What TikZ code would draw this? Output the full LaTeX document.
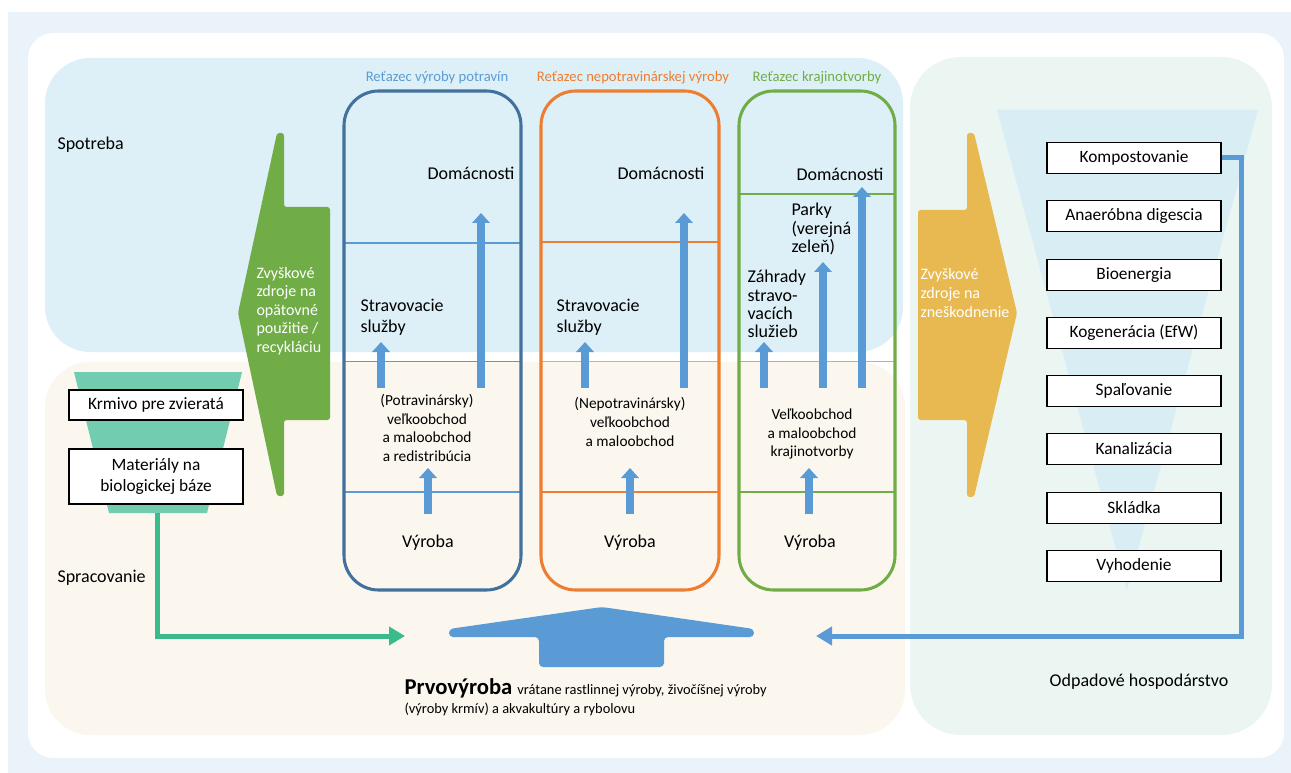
\documentclass[tikz,border=0pt]{standalone}
\usepackage{fontspec}
\setmainfont{Carlito}
\usetikzlibrary{arrows.meta}

\definecolor{pageblue}{RGB}{234,243,250}
\definecolor{useblue}{RGB}{222,240,247}
\definecolor{proccream}{RGB}{251,247,238}
\definecolor{wastegreen}{RGB}{235,246,242}
\definecolor{funnelblue}{RGB}{216,237,244}
\definecolor{fooddark}{RGB}{65,113,156}
\definecolor{flowblue}{RGB}{91,155,213}
\definecolor{nonfood}{RGB}{237,125,49}
\definecolor{landgreen}{RGB}{112,173,71}
\definecolor{residgold}{RGB}{231,185,80}
\definecolor{feedteal}{RGB}{114,204,176}
\definecolor{bioteal}{RGB}{59,186,140}

\tikzset{every picture/.style={line width=0.75pt}}
\tikzset{
  txt/.style={inner sep=0.75pt, font=\fontsize{13.5}{15.75}\selectfont},
  tighttxt/.style={inner sep=0.75pt, align=left, font=\fontsize{13.5}{13.6}\selectfont},
  midtxt/.style={inner sep=0.75pt, align=center, font=\fontsize{11.5}{14}\selectfont},
  chaintitle/.style={inner sep=0.75pt, font=\fontsize{11}{13}\selectfont},
  restxt/.style={inner sep=0.75pt, align=left, text=white, font=\fontsize{12}{13.9}\selectfont},
  wastebox/.style={draw=black, fill=white, line width=1.1pt, minimum width=130.5pt, minimum height=23.25pt, inner sep=0pt, font=\fontsize{13}{15}\selectfont},
  feedbox/.style={draw=black, fill=white, line width=1.1pt, minimum width=130.5pt, minimum height=22.5pt, inner sep=0pt, align=center, font=\fontsize{13}{15.4}\selectfont},
  chainbox/.style={line width=2.3pt, rounded corners=26pt},
  sepline/.style={line width=1.5pt},
  thinsep/.style={line width=0.75pt},
  upflow/.style={draw=flowblue, line width=6.2pt, -{Triangle[width=13pt,length=7.5pt]}},
  loopline/.style={line width=3.75pt, -{Triangle[width=13.5pt,length=12pt]}},
}

\begin{document}
\begin{tikzpicture}[x=0.75pt,y=0.75pt,yscale=-1,xscale=1]
\useasboundingbox (0,0) rectangle (1291,773);

%Shape: Rectangle [background]
\fill[pageblue] (8,12) rectangle (1291,773);
%Shape: Rounded Rect [card]
\fill[white, rounded corners=19pt] (28,33) rectangle (1284,758);
%Shape: Rounded Rect [consumption]
\fill[useblue, rounded corners=34pt] (45,58) rectangle (903,352);
%Shape: Rounded Rect [processing]
\fill[proccream, rounded corners=34pt] (45,362) rectangle (905,735);
%Shape: Rounded Rect [waste]
\fill[wastegreen, rounded corners=38pt] (910,57) rectangle (1272,735);

%Shape: Triangle [waste funnel]
\fill[funnelblue] (997,110) -- (1258,110) -- (1127,590) -- cycle;
%Shape: Trapezoid [bio funnel]
\fill[feedteal] (74,372) -- (242,372) -- (207,513) -- (109,513) -- cycle;

%Straight Lines [chain levels]
\draw[sepline, flowblue] (344,243) -- (521,243);
\draw[thinsep, flowblue] (344,361) -- (521,361);
\draw[sepline, flowblue] (344,492) -- (521,492);
\draw[sepline, nonfood] (541,242) -- (719,242);
\draw[thinsep, nonfood!70] (541,361) -- (719,361);
\draw[sepline, nonfood] (541,492) -- (719,492);
\draw[sepline, landgreen] (739,194) -- (895,194);
\draw[thinsep, landgreen!70] (739,361) -- (895,361);
\draw[sepline, landgreen] (739,492) -- (895,492);

%Shape: Rounded Rect [chains]
\draw[chainbox, fooddark] (344,91) rectangle (521,590);
\draw[chainbox, nonfood] (541,91) rectangle (719,590);
\draw[chainbox, landgreen] (739,91) rectangle (895,590);

%Block Arrows [flows]
\draw[upflow] (381,388) -- (381,342);
\draw[upflow] (481,388) -- (481,213);
\draw[upflow] (428,514) -- (428,468);
\draw[upflow] (585,388) -- (585,342);
\draw[upflow] (684,388) -- (684,213);
\draw[upflow] (630,514) -- (630,468);
\draw[upflow] (764,388) -- (764,342);
\draw[upflow] (823,388) -- (823,262);
\draw[upflow] (862,388) -- (862,187);
\draw[upflow] (809,514) -- (809,468);

% Text Node [chain titles]
\node (titfood) [chaintitle, text=flowblue] at (437,78) {Reťazec výroby potravín};
\node (titnonfood) [chaintitle, text=nonfood] at (633,78) {Reťazec nepotravinárskej výroby};
\node (titland) [chaintitle, text=landgreen] at (817,78) {Reťazec krajinotvorby};

% Text Node [food chain]
\node (homefood) [txt, anchor=east] at (516,173) {Domácnosti};
\node (catfood) [txt, anchor=west, align=left] at (359,317) {Stravovacie\\služby};
\node (tradefood) [midtxt] at (427,428) {(Potravinársky)\\veľkoobchod\\a maloobchod\\a redistribúcia};
\node (prodfood) [txt] at (428,543) {Výroba};

% Text Node [non-food chain]
\node (homenonfood) [txt, anchor=east] at (706,173) {Domácnosti};
\node (catnonfood) [txt, anchor=west, align=left] at (555,317) {Stravovacie\\služby};
\node (tradenonfood) [midtxt] at (630,422) {(Nepotravinársky)\\veľkoobchod\\a maloobchod};
\node (prodnonfood) [txt] at (630,543) {Výroba};

% Text Node [landscape chain]
\node (homeland) [txt, anchor=east] at (885,174) {Domácnosti};
\node (parks) [tighttxt, anchor=west] at (790,229) {Parky\\(verejná\\zeleň)};
\node (gardens) [tighttxt, anchor=west] at (746,304) {Záhrady\\stravo-\\vacích\\služieb};
\node (tradeland) [midtxt] at (812,434) {Veľkoobchod\\a maloobchod\\krajinotvorby};
\node (prodland) [txt] at (810,543) {Výroba};

%Shape: Arrow [residues for reuse]
\fill[landgreen, rounded corners=2pt] (277,133) -- (284,133) -- (284,207) -- (330,207) -- (330,420) -- (284,420) -- (284,496) -- (277,496) -- (238,313) -- cycle;
\node (reuse) [restxt, anchor=west] at (255,311) {Zvyškové\\zdroje na\\opätovné\\použitie /\\recykláciu};

%Shape: Arrow [residues for disposal]
\fill[residgold, rounded corners=2pt] (974,133) -- (967,133) -- (967,210) -- (918,210) -- (918,420) -- (967,420) -- (967,497) -- (974,497) -- (1017,313) -- cycle;
\node (dispose) [restxt, anchor=west] at (919,293) {Zvyškové\\zdroje na\\zneškodnenie};

% Text Node [regions]
\node (spotreba) [txt, anchor=west] at (56,145) {Spotreba};
\node (spracovanie) [txt, anchor=west] at (56,578) {Spracovanie};
\node (odpad) [txt] at (1139,682) {Odpadové hospodárstvo};

% Text Node [waste options]
\node (komp) [wastebox] at (1134,158) {Kompostovanie};
\node (anaer) [wastebox] at (1134,216) {Anaeróbna digescia};
\node (bioen) [wastebox] at (1134,275) {Bioenergia};
\node (kogen) [wastebox] at (1134,333) {Kogenerácia (EfW)};
\node (spal) [wastebox] at (1134,391) {Spaľovanie};
\node (kanal) [wastebox] at (1134,449) {Kanalizácia};
\node (sklad) [wastebox] at (1134,508) {Skládka};
\node (vyhod) [wastebox] at (1134,566) {Vyhodenie};

% Text Node [bio-based]
\node (krmivo) [feedbox] at (156,405) {Krmivo pre zvieratá};
\node (mat) [feedbox, minimum height=41pt] at (156,476.5) {Materiály na\\biologickej báze};

%Shape: Arrow [primary production]
\fill[flowblue, rounded corners=3pt] (449,629) -- (602,607) -- (754,629) -- (754,637) -- (664,637) -- (664,667) -- (539,667) -- (539,637) -- (449,637) -- cycle;
\coordinate (feedin) at (405,636);
\coordinate (retin) at (816,636);
\coordinate (matout) at (157,513);

%Connectors
\draw[loopline, bioteal] (matout) |- (feedin);
\draw[loopline, flowblue] (komp.east) -- ++(20,0) |- (retin);

% Text Node [primary production]
\node (prvo) [anchor=base west, inner sep=0pt, font=\bfseries\fontsize{17}{20}\selectfont] at (404,694) {Prvovýroba};
\node (prvodesc) [anchor=base west, inner sep=0pt, font=\fontsize{10.8}{13}\selectfont] at ([xshift=3pt]prvo.base east) {vrátane rastlinnej výroby, živočíšnej výroby};
\node (prvodesc2) [anchor=base west, inner sep=0pt, font=\fontsize{10.8}{13}\selectfont] at (404,713) {(výroby krmív) a akvakultúry a rybolovu};

\end{tikzpicture}
\end{document}
